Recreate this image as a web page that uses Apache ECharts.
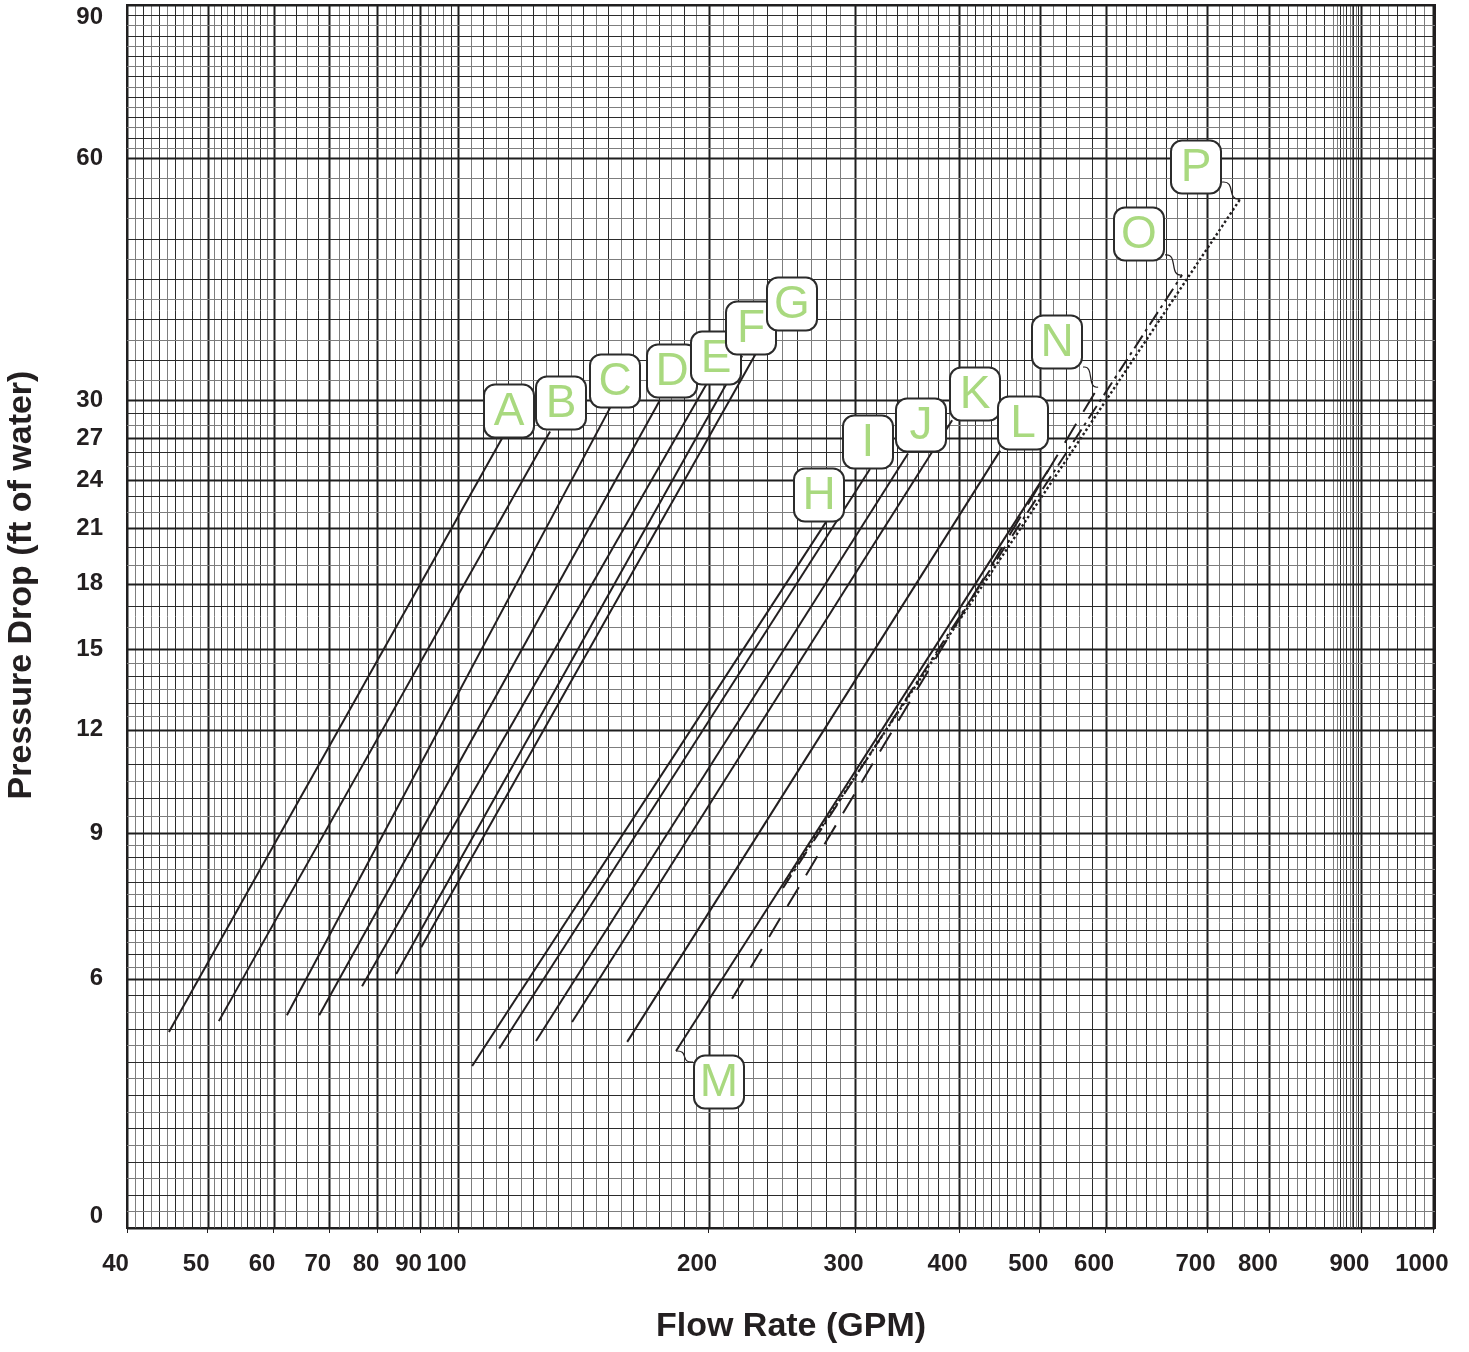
<!DOCTYPE html>
<html>
<head>
<meta charset="utf-8">
<title>Pressure Drop vs Flow Rate</title>
<script src="https://cdn.jsdelivr.net/npm/echarts@6/dist/echarts.min.js"></script>
<style>
    html, body { margin: 0; padding: 0; background: #fff; }
    #chart { width: 1469px; height: 1352px; }
</style>
</head>
<body>
<div id="chart"></div>
<script>
// ticks as printed on the sheet
var xTicks = [40, 50, 60, 70, 80, 90, 100, 200, 300, 400, 500, 600, 700, 800, 900, 1000];
var xTickLabels = ['40', '50', '60', '70', '80', '90', '100', '200', '300', '400', '500', '600', '700', '800', '900', '1000'];
var yTicks = [3, 6, 9, 12, 15, 18, 21, 24, 27, 30, 60, 90];
var yTickLabels = ['0', '6', '9', '12', '15', '18', '21', '24', '27', '30', '60', '90'];

// minor ruling step inside each major interval, plus the fine ruling before 900
var xRuleStep = [1, 1, 2, 2, 2, 2, 5, 10, 10, 10, 20, 10, 20, 10, 12.5];
var yRuleStep = [0.2, 0.25, 0.5, 0.5, 1, 1, 1, 1, 1, 2.5, 2];
var xFineRules = [873.5, 877, 880.5, 884, 887.5, 891, 894.5, 897];

// curves (GPM / ft of water at both ends)
var curveNames = ['A', 'B', 'C', 'D', 'E', 'F', 'G', 'H', 'I', 'J', 'K', 'L', 'M', 'N', 'O', 'P'];
var flowStart = [45.2, 51.7, 62.4, 68.2, 76.8, 84.4, 90.3, 105.6, 116.4, 131.1, 145.5, 167.5, 187.0, 216.0, 250.8, 252.9];
var flowEnd   = [117.6, 136.7, 160.7, 180.6, 199.4, 222.9, 242.0, 280.2, 314.3, 350.9, 393.3, 450.9, 512.7, 588.6, 675.4, 753.2];
var dropStart = [5.36, 5.49, 5.56, 5.56, 5.91, 6.10, 6.65, 4.95, 5.16, 5.25, 5.48, 5.24, 5.13, 5.76, 7.87, 8.03];
var dropEnd   = [27.0, 27.5, 29.4, 30.0, 32.1, 35.5, 38.9, 21.4, 24.8, 25.9, 28.4, 26.1, 24.7, 31.6, 45.5, 54.9];

// the printed sheet is log ruled, except where it was drawn off true
var xSheetPos = { 700: 2.900, 800: 2.975, 900: 3.085, 1000: 3.172 };
var ySheetPos = { 60: 1.7695 };
var X_MIN = Math.log10(40), X_MAX = 3.174;
var Y_MIN = Math.log10(3), Y_MAX = Math.log10(90);

var INK = '#231f20';
var GREEN = '#a9d97f';

function xMajorPos(v) { return xSheetPos[v] !== undefined ? xSheetPos[v] : Math.log10(v); }
function yMajorPos(v) { return ySheetPos[v] !== undefined ? ySheetPos[v] : Math.log10(v); }

// sheet position: majors placed on the ruling, linear in between
function sheet(v, ticks, posFn) {
    for (var i = 0; i < ticks.length - 1; i++) {
        if (v <= ticks[i + 1] || i == ticks.length - 2) {
            var a = posFn(ticks[i]), b = posFn(ticks[i + 1]);
            return a + (v - ticks[i]) / (ticks[i + 1] - ticks[i]) * (b - a);
        }
    }
}
function sx(v) { return sheet(v, xTicks, xMajorPos); }
function sy(v) { return sheet(v, yTicks, yMajorPos); }

function labelFor(val, ticks, fn, labels) {
    for (var i = 0; i < ticks.length; i++) {
        if (Math.abs(fn(ticks[i]) - val) < 1e-6) return labels[i];
    }
    return '';
}

// ruling lines: [value, axis(0 = vertical, 1 = horizontal), weight]
function buildRules(ticks, steps, fn, axis) {
    var out = [];
    for (var i = 0; i < ticks.length - 1; i++) {
        out.push([fn(ticks[i]), axis, 2]);
        var k = 1;
        for (var v = ticks[i] + steps[i]; v < ticks[i + 1] - 1e-6; v += steps[i]) {
            out.push([fn(v), axis, k % 2 == 0 ? 1 : 0]);
            k++;
        }
    }
    out.push([fn(ticks[ticks.length - 1]), axis, 2]);
    return out;
}
var rules = buildRules(xTicks, xRuleStep, sx, 0)
    .concat(xFineRules.map(function (v, k) { return [sx(v), 0, k % 2]; }))
    .concat(buildRules(yTicks, yRuleStep, sy, 1));

// label boxes: pixel offset of the box centre from the curve end it names
var tagAtStart = ['M'];
var tagOffset = [[7, -27], [11, -29], [5, -27], [12, -29], [9, -25], [9, -28], [22, -24],
    [-7, -27], [-2, -27], [13, -28], [23, -26], [23, -28], [43, 31], [-41, -45], [-43, -41], [-44, -32]];
var leaderFrom = { M: [17, 11], N: [-15, -20], O: [-17, -20], P: [-18, -17] };

var lineTypes = { N: [22, 14], O: [15, 5, 3, 5], P: [2.5, 2.5] };

var chart = echarts.init(document.getElementById('chart'));

var series = [];
series.push({
    type: 'custom',
    name: 'ruling',
    silent: true,
    z: 1,
    clip: false,
    data: rules,
    renderItem: function (params, api) {
        var v = api.value(0), axis = api.value(1), w = api.value(2);
        var p1, p2;
        if (axis == 0) {
            p1 = api.coord([v, Y_MIN]); p2 = api.coord([v, Y_MAX]);
            var x = Math.round(p1[0]) + 0.5;
            p1[0] = x; p2[0] = x;
        } else {
            p1 = api.coord([X_MIN, v]); p2 = api.coord([X_MAX, v]);
            var y = Math.round(p1[1]) + 0.5;
            p1[1] = y; p2[1] = y;
        }
        return {
            type: 'line',
            shape: { x1: p1[0], y1: p1[1], x2: p2[0], y2: p2[1] },
            style: {
                stroke: w == 0 ? '#7d7d7d' : (w == 1 ? '#2a2a2a' : '#1e1e1e'),
                lineWidth: w == 2 ? 2 : 1
            }
        };
    }
});

var tagData = [];
var leaderData = [];
for (var i = 0; i < curveNames.length; i++) {
    var nm = curveNames[i];
    series.push({
        type: 'line',
        name: nm,
        z: 3,
        showSymbol: false,
        silent: true,
        data: [[sx(flowStart[i]), sy(dropStart[i])], [sx(flowEnd[i]), sy(dropEnd[i])]],
        lineStyle: { color: INK, width: nm == 'P' ? 2.4 : 2, type: lineTypes[nm] || 'solid' }
    });
    var atStart = tagAtStart.indexOf(nm) >= 0;
    var pt = atStart ? [sx(flowStart[i]), sy(dropStart[i])] : [sx(flowEnd[i]), sy(dropEnd[i])];
    tagData.push({ name: nm, value: pt });
    if (leaderFrom[nm]) leaderData.push({ name: nm, value: pt });
}

series.push({
    type: 'custom',
    name: 'leaders',
    silent: true,
    z: 4,
    clip: false,
    data: leaderData,
    renderItem: function (params, api) {
        var p = api.coord([api.value(0), api.value(1)]);
        var o = leaderFrom[leaderData[params.dataIndex].name];
        var a = [p[0] + o[0], p[1] + o[1]];
        var dx = (p[0] - a[0]) / 2, dy = (p[1] - a[1]) / 2;
        return {
            type: 'bezierCurve',
            shape: {
                x1: a[0], y1: a[1], x2: p[0], y2: p[1],
                cpx1: a[0] + dx * 1.6, cpy1: a[1] - dy * 0.2,
                cpx2: p[0] - dx * 1.6, cpy2: p[1] + dy * 0.2
            },
            style: { stroke: INK, lineWidth: 1.2, fill: null }
        };
    }
});

// rounded boxes with the curve letters
series.push({
    type: 'custom',
    name: 'tags',
    silent: true,
    z: 5,
    clip: false,
    data: tagData,
    renderItem: function (params, api) {
        var p = api.coord([api.value(0), api.value(1)]);
        var o = tagOffset[params.dataIndex];
        var cx = Math.round(p[0] + o[0]), cy = Math.round(p[1] + o[1]);
        return {
            type: 'group',
            children: [{
                type: 'rect',
                shape: { x: cx - 25, y: cy - 26.5, width: 50, height: 53, r: 11 },
                style: { fill: '#fff', stroke: '#2b2b2b', lineWidth: 2 }
            }, {
                type: 'text',
                style: {
                    text: tagData[params.dataIndex].name,
                    x: cx, y: cy + 1,
                    fill: GREEN,
                    font: '46px "Liberation Sans"',
                    align: 'center',
                    verticalAlign: 'middle'
                }
            }]
        };
    }
});

var option = {
    animation: false,
    backgroundColor: '#fff',
    grid: {
        left: 127, top: 5, right: 34, bottom: 124,
        show: true, borderColor: INK, borderWidth: 2
    },
    xAxis: {
        type: 'value',
        min: X_MIN,
        max: X_MAX,
        splitLine: { show: false },
        axisLine: { show: true, lineStyle: { color: INK, width: 2 } },
        axisTick: { show: true, customValues: xTicks.map(sx), length: 5, lineStyle: { color: INK } },
        axisLabel: {
            customValues: xTicks.map(sx),
            formatter: function (val) { return labelFor(val, xTicks, sx, xTickLabels); },
            color: INK,
            fontFamily: 'Liberation Sans',
            fontWeight: 'bold',
            fontSize: 24,
            margin: 24,
            padding: [0, 23, 0, 0]
        },
        name: 'Flow Rate (GPM)',
        nameLocation: 'middle',
        nameGap: 82,
        nameTextStyle: {
            color: INK, fontFamily: 'Liberation Sans', fontWeight: 'bold', fontSize: 34,
            padding: [0, 0, 0, 20]
        }
    },
    yAxis: {
        type: 'value',
        min: Y_MIN,
        max: Y_MAX,
        splitLine: { show: false },
        axisLine: { show: true, lineStyle: { color: INK, width: 2 } },
        axisTick: { show: false },
        axisLabel: {
            customValues: yTicks.map(sy),
            formatter: function (val) { return labelFor(val, yTicks, sy, yTickLabels); },
            color: INK,
            fontFamily: 'Liberation Sans',
            fontWeight: 'bold',
            fontSize: 24,
            margin: 24,
            verticalAlignMinLabel: 'bottom',
            verticalAlignMaxLabel: 'top'
        }
    },
    graphic: [{
        type: 'text',
        x: 22,
        y: 585,
        rotation: Math.PI / 2,
        style: {
            text: 'Pressure Drop (ft of water)',
            fill: INK,
            font: 'bold 34px "Liberation Sans"',
            textAlign: 'center',
            textVerticalAlign: 'middle'
        }
    }],
    series: series
};

chart.setOption(option);
</script>
</body>
</html>
